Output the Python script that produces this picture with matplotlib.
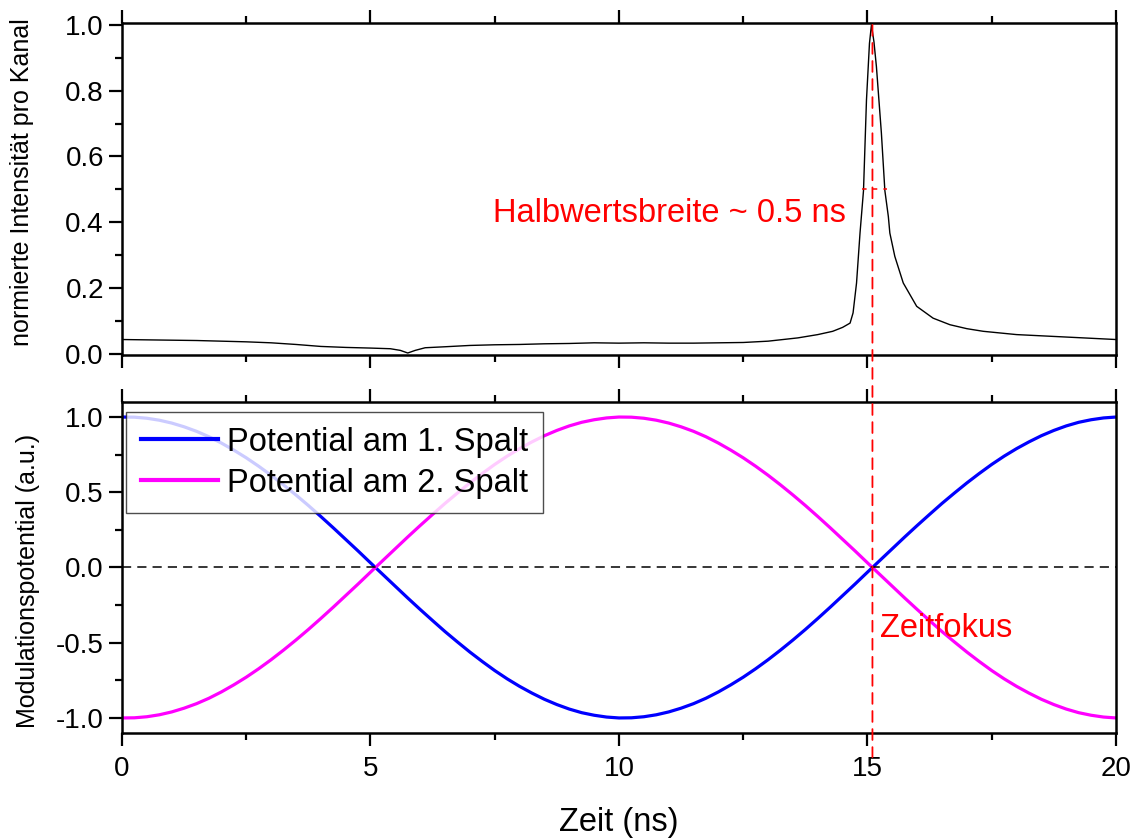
import numpy as np
import matplotlib
matplotlib.use("Agg")
import matplotlib.pyplot as plt
from matplotlib.patches import ConnectionPatch
from matplotlib.ticker import MultipleLocator, FormatStrFormatter

plt.rcParams['font.family'] = ['Liberation Sans', 'DejaVu Sans']

# measured time spectrum (normalised counts per channel)
zeit_spektrum = [0.0, 0.5, 1.0, 1.5, 2.0, 2.5, 3.0, 3.5, 4.0, 4.5, 5.0, 5.4,
                 5.6, 5.75, 5.9, 6.1, 6.5, 7.0, 7.5, 8.0, 8.5, 9.0, 9.5, 10.0,
                 10.5, 11.0, 11.5, 12.0, 12.5, 13.0, 13.3, 13.6, 14.0, 14.3,
                 14.5, 14.65, 14.71, 14.78, 14.85, 14.92, 14.98, 15.04, 15.08,
                 15.13, 15.18, 15.28, 15.35, 15.42, 15.45, 15.55, 15.72, 15.99,
                 16.32, 16.66, 17.0, 17.33, 18.0, 18.67, 19.34, 20.0]
intensitaet = [0.043, 0.042, 0.041, 0.040, 0.038, 0.036, 0.033, 0.028, 0.022,
               0.019, 0.017, 0.015, 0.010, 0.002, 0.010, 0.018, 0.021, 0.025,
               0.027, 0.028, 0.030, 0.031, 0.033, 0.032, 0.033, 0.032, 0.032,
               0.033, 0.034, 0.038, 0.043, 0.048, 0.058, 0.068, 0.080, 0.093,
               0.124, 0.215, 0.367, 0.496, 0.772, 0.944, 1.000, 0.949, 0.873,
               0.671, 0.496, 0.417, 0.367, 0.296, 0.215, 0.144, 0.108, 0.088,
               0.076, 0.068, 0.058, 0.053, 0.048, 0.043]

# modulation potentials at both slits, sampled every 0.25 ns
zeit_pot = np.linspace(0, 20, 81)
spalt1 = [1.000, 0.999, 0.992, 0.979, 0.960, 0.935, 0.905, 0.869, 0.827,
          0.780, 0.729, 0.673, 0.613, 0.549, 0.482, 0.412, 0.339, 0.264,
          0.187, 0.110, 0.031, -0.047, -0.125, -0.203, -0.279, -0.353,
          -0.426, -0.495, -0.562, -0.625, -0.685, -0.740, -0.790, -0.835,
          -0.876, -0.911, -0.941, -0.965, -0.982, -0.994, -1.000, -0.999,
          -0.992, -0.979, -0.960, -0.935, -0.905, -0.869, -0.827, -0.780,
          -0.729, -0.673, -0.613, -0.549, -0.482, -0.412, -0.339, -0.264,
          -0.187, -0.110, -0.031, 0.047, 0.125, 0.203, 0.279, 0.353, 0.426,
          0.495, 0.562, 0.625, 0.685, 0.740, 0.790, 0.835, 0.876, 0.911,
          0.941, 0.965, 0.982, 0.994, 1.000]
spalt2 = [-1.000, -0.999, -0.992, -0.979, -0.960, -0.935, -0.905, -0.869,
          -0.827, -0.780, -0.729, -0.673, -0.613, -0.549, -0.482, -0.412,
          -0.339, -0.264, -0.187, -0.110, -0.031, 0.047, 0.125, 0.203, 0.279,
          0.353, 0.426, 0.495, 0.562, 0.625, 0.685, 0.740, 0.790, 0.835,
          0.876, 0.911, 0.941, 0.965, 0.982, 0.994, 1.000, 0.999, 0.992,
          0.979, 0.960, 0.935, 0.905, 0.869, 0.827, 0.780, 0.729, 0.673,
          0.613, 0.549, 0.482, 0.412, 0.339, 0.264, 0.187, 0.110, 0.031,
          -0.047, -0.125, -0.203, -0.279, -0.353, -0.426, -0.495, -0.562,
          -0.625, -0.685, -0.740, -0.790, -0.835, -0.876, -0.911, -0.941,
          -0.965, -0.982, -0.994, -1.000]

t_fokus = 15.1
fwhm_links, fwhm_rechts, halbe_hoehe = 14.88, 15.39, 0.5

fig = plt.figure(figsize=(11.37, 8.38), dpi=100)
ax1 = fig.add_axes([0.1073, 0.5764, 0.8742, 0.3962])
ax2 = fig.add_axes([0.1073, 0.1253, 0.8742, 0.3950])

for ax in (ax1, ax2):
    for s in ax.spines.values():
        s.set_linewidth(1.8)
    ax.tick_params(which='both', direction='out', top=True, right=False,
                   width=1.6, labelsize=20)
    ax.tick_params(which='major', length=9.5)
    ax.tick_params(which='minor', length=5)
    ax.tick_params(axis='x', pad=7)
    ax.set_xlim(0, 20)
    ax.xaxis.set_major_locator(MultipleLocator(5))
    ax.xaxis.set_minor_locator(MultipleLocator(2.5))

# upper panel: time spectrum
ax1.plot(zeit_spektrum, intensitaet, color='black', lw=1.0)
ax1.plot([fwhm_links, fwhm_rechts], [halbe_hoehe, halbe_hoehe], color='red',
         lw=1.1, ls=(0, (3, 4)))
ax1.set_ylim(-0.004, 1.006)
ax1.yaxis.set_major_locator(MultipleLocator(0.2))
ax1.yaxis.set_minor_locator(MultipleLocator(0.1))
ax1.yaxis.set_major_formatter(FormatStrFormatter('%.1f'))
ax1.tick_params(labelbottom=False)
ax1.set_ylabel('normierte Intensität pro Kanal', fontsize=18)
ax1.yaxis.set_label_coords(-0.089, 0.52)
ax1.text(7.47, 0.40, 'Halbwertsbreite ~ 0.5 ns', color='red', fontsize=23.5,
         va='baseline', ha='left')

# lower panel: modulation potentials
ax2.plot(zeit_pot, spalt1, color='#0000ff', lw=2.3, label='Potential am 1. Spalt')
ax2.plot(zeit_pot, spalt2, color='#ff00ff', lw=2.3, label='Potential am 2. Spalt')
ax2.axhline(0, color='black', lw=1.1, ls=(0, (6, 4)))
ax2.set_ylim(-1.1, 1.1)
ax2.yaxis.set_major_locator(MultipleLocator(0.5))
ax2.yaxis.set_minor_locator(MultipleLocator(0.25))
ax2.yaxis.set_major_formatter(FormatStrFormatter('%.1f'))
ax2.set_ylabel('Modulationspotential (a.u.)', fontsize=18)
ax2.yaxis.set_label_coords(-0.083, 0.46)
ax2.set_xlabel('Zeit (ns)', fontsize=23.5)
ax2.xaxis.set_label_coords(0.5, -0.225)
ax2.text(15.25, -0.463, 'Zeitfokus', color='red', fontsize=23.5,
         va='baseline', ha='left')

leg = ax2.legend(loc='upper left', bbox_to_anchor=(0.004, 0.97),
                 fontsize=23.5, frameon=True, fancybox=False,
                 handlelength=2.36, handletextpad=0.28, borderpad=0.45,
                 labelspacing=0.31, borderaxespad=0)
leg.get_frame().set_edgecolor('#222222')
leg.get_frame().set_linewidth(1.0)
for line in leg.get_lines():
    line.set_linewidth(3)

# time focus marker running through both panels
con = ConnectionPatch(xyA=(t_fokus, 1.0), coordsA=ax1.transData,
                      xyB=(t_fokus, -1.26), coordsB=ax2.transData,
                      color='red', lw=1.3, ls=(0, (6, 4)), zorder=5)
fig.add_artist(con)

fig.savefig('out.png', dpi=100)
